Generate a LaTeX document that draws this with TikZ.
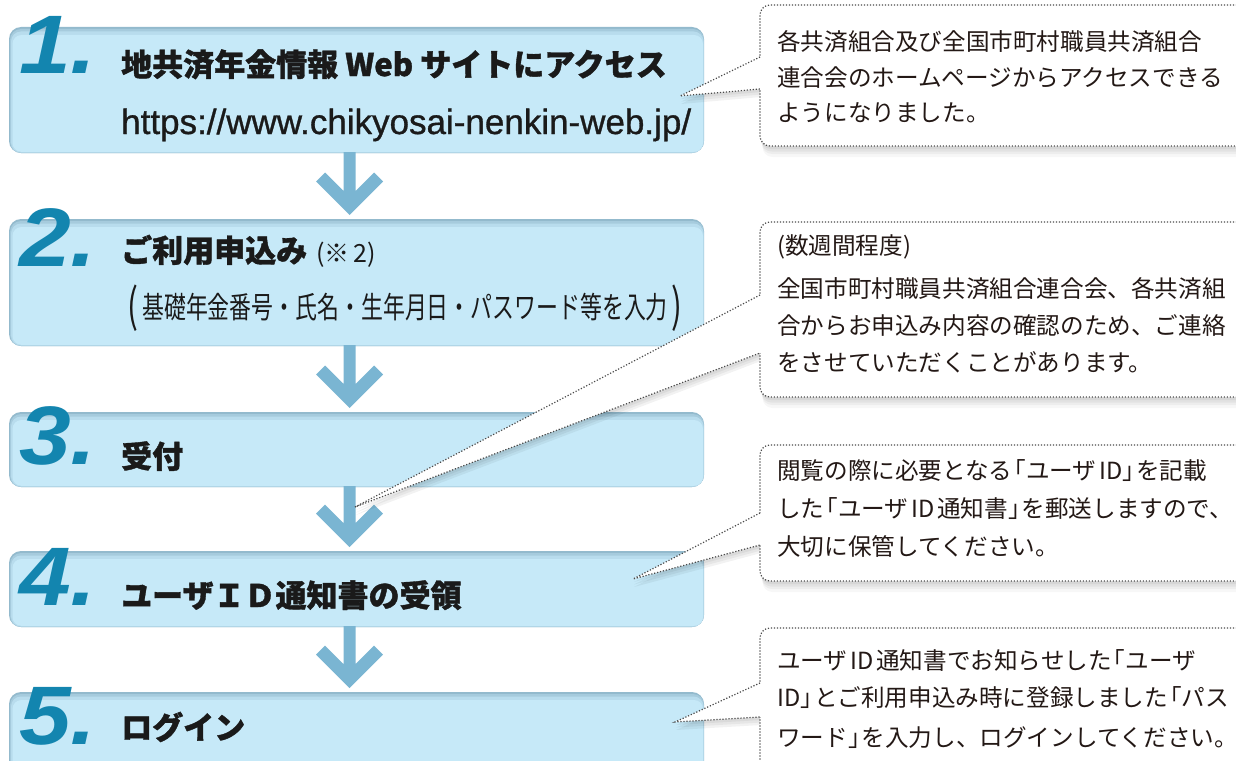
\documentclass[tikz,border=0pt]{standalone}
\usepackage{fontspec}
\usepackage{graphicx}
\usetikzlibrary{calc}
\newfontfamily\jp[BoldFeatures={FakeBold=1.2}]{Noto Sans CJK JP}
\newfontfamily\numf{Liberation Sans}
\newfontfamily\urlf[FakeBold=0.9]{Liberation Sans}
\definecolor{rimA}{HTML}{93BACD}
\definecolor{rimB}{HTML}{A6CBDD}
\definecolor{rimC}{HTML}{B8DCED}
\definecolor{boxfill}{HTML}{C6E9F8}
\definecolor{arrowc}{HTML}{7AB5D2}
\definecolor{numc}{HTML}{1385AF}
\definecolor{headc}{HTML}{1A1A1A}
\definecolor{txtc}{HTML}{231815}
\definecolor{dotc}{HTML}{4A4A4A}
\newcommand\jlb{\kern-.42em「}
\newcommand\jrb{」\kern-.42em}
\tikzset{
  stepbox/.style={rounded corners=12pt, fill=rimA, minimum width=695pt, anchor=north west,
    inner sep=0pt, outer sep=0pt,
    path picture={
      \fill[rimB, rounded corners=11pt] ([xshift=1pt,yshift=-2pt]path picture bounding box.north west) rectangle (path picture bounding box.south east);
      \fill[rimC, rounded corners=10pt] ([xshift=2pt,yshift=-4.5pt]path picture bounding box.north west) rectangle ([xshift=-0.5pt,yshift=0.5pt]path picture bounding box.south east);
      \fill[boxfill, rounded corners=9pt] ([xshift=3.5pt,yshift=-8pt]path picture bounding box.north west) rectangle ([xshift=-1pt,yshift=1.2pt]path picture bounding box.south east);
    }},
  callbox/.style={rounded corners=10pt, fill=white, draw=dotc, line width=1.2pt,
    dash pattern=on 1.2pt off 1.8pt, minimum width=520pt, anchor=north west,
    inner sep=0pt, outer sep=0pt,
    preaction={draw=none, fill=black, opacity=0.05, transform canvas={shift={(1pt,-3pt)}}},
    preaction={draw=none, fill=black, opacity=0.05, transform canvas={shift={(1.5pt,-5.5pt)}}},
    preaction={draw=none, fill=black, opacity=0.04, transform canvas={shift={(2pt,-8pt)}}},
    preaction={draw=none, fill=black, opacity=0.03, transform canvas={shift={(2.5pt,-11pt)}}}},
  pointer/.style={draw=dotc, line width=1.2pt, dash pattern=on 1.2pt off 1.8pt},
  wedgeshadow/.style={fill=black, opacity=0.05},
  num/.style={font=\numf\bfseries\itshape\fontsize{83pt}{84pt}\selectfont, text=numc, anchor=base west, inner sep=0pt},
  head/.style={font=\jp\bfseries\fontsize{31pt}{36pt}\selectfont, text=headc, anchor=base west, inner sep=0pt},
  urltext/.style={font=\urlf\fontsize{35pt}{36pt}\selectfont, text=headc, anchor=base west, inner sep=0pt},
  subtext/.style={font=\jp\fontsize{25pt}{26pt}\selectfont, text=headc, anchor=base west, inner sep=0pt},
  linetwo/.style={font=\jp\fontsize{30pt}{32pt}\selectfont, text=headc, anchor=base west, inner sep=0pt},
  bigparen/.style={font=\jp\fontsize{46pt}{48pt}\selectfont, text=headc, anchor=center, inner sep=0pt},
  ctext/.style={font=\jp\fontsize{23.6pt}{30pt}\selectfont, text=txtc, anchor=base west, inner sep=0pt}
}
\newcommand\flowarrow[2]{%
  \fill[arrowc] ($(#1.south)+(-13,-1)$) -- ($(#2.north)+(-13,-28)$) -- ($(#2.north)+(-31.5,-46.5)$)
    -- ($(#2.north)+(-40.5,-37.5)$) -- ($(#2.north)+(-7,-4)$) -- ($(#2.north)+(26.5,-37.5)$)
    -- ($(#2.north)+(17.5,-46.5)$) -- ($(#2.north)+(-1,-28)$) -- ($(#1.south)+(-1,-1)$) -- cycle;}
\newcommand\pointerwedge[3]{% upper base, tip, lower base
  \foreach \s in {3,5.5,8}{\fill[wedgeshadow, transform canvas={shift={(1pt,-\s pt)}}] (#1) -- (#2) -- (#3) -- cycle;}
}
\newcommand\pointerdraw[3]{%
  \fill[white] (#1) -- (#2) -- (#3) -- ($(#3)+(2,0)$) -- ($(#1)+(2,0)$) -- cycle;
  \draw[pointer] (#1) -- (#2) -- (#3);}
\begin{document}
\begin{tikzpicture}[x=1pt,y=-1pt]
\useasboundingbox (0,0) rectangle (1236,760);
\clip (0,0) rectangle (1236,760);
% step boxes
\node[stepbox, minimum height=126pt] (b1) at (9,27) {};
\node[stepbox, minimum height=127pt] (b2) at (9,219) {};
\node[stepbox, minimum height=75pt] (b3) at (9,412) {};
\node[stepbox, minimum height=76pt] (b4) at (9,551) {};
\node[stepbox, minimum height=110pt] (b5) at (9,692) {};
% arrows
\flowarrow{b1}{b2}
\flowarrow{b2}{b3}
\flowarrow{b3}{b4}
\flowarrow{b4}{b5}
% numbers
\node[num] (n1) at (19,74) {\scalebox{1.12}[1]{1.}};
\node[num] (n2) at (19,266) {\scalebox{1.12}[1]{2.}};
\node[num] (n3) at (19,464) {\scalebox{1.12}[1]{3.}};
\node[num] (n4) at (19,605) {\scalebox{1.12}[1]{4.}};
\node[num] (n5) at (19,744) {\scalebox{1.12}[1]{5.}};
% headings
\node[head] (h1) at (121,76) {地共済年金情報 Web サイトにアクセス};
\node[urltext] (u1) at (121,134) {https://www.chikyosai-nenkin-web.jp/};
\node[head] (h2) at (121,262) {ご利用申込み};
\node[subtext] (h2n) at (316,262) {(※\,2)};
\node[bigparen] (pl) at (133,308) {\scalebox{0.7}[1]{(}};
\node[linetwo] (h2b) at (142,318) {\scalebox{0.73}[1]{基礎年金番号・氏名・生年月日・パスワード等を入力}};
\node[bigparen] (pr) at (677,308) {\scalebox{0.7}[1]{)}};
\node[head] (h3) at (121,468) {受付};
\node[head] (h4) at (121,607) {ユーザＩＤ通知書の受領};
\node[head] (h5) at (121,739) {ログイン};
% callout anchor coordinates
\coordinate (c1u) at (760,57);  \coordinate (c1l) at (760,89);  \coordinate (p1) at (680,96);
\coordinate (c2u) at (760,295); \coordinate (c2l) at (760,353); \coordinate (p2) at (355,507);
\coordinate (c3u) at (760,513); \coordinate (c3l) at (760,545); \coordinate (p3) at (633,579);
\coordinate (c4u) at (760,683); \coordinate (c4l) at (760,717); \coordinate (p4) at (675,722);
% pointer shadows
\pointerwedge{c1u}{p1}{c1l}
\pointerwedge{c2u}{p2}{c2l}
\pointerwedge{c3u}{p3}{c3l}
\pointerwedge{c4u}{p4}{c4l}
% callout boxes
\node[callbox, minimum height=141pt] (c1) at (760,5) {};
\node[callbox, minimum height=175pt] (c2) at (760,222) {};
\node[callbox, minimum height=136pt] (c3) at (760,445) {};
\node[callbox, minimum height=200pt] (c4) at (760,628) {};
% pointers
\pointerdraw{c1u}{p1}{c1l}
\pointerdraw{c2u}{p2}{c2l}
\pointerdraw{c3u}{p3}{c3l}
\pointerdraw{c4u}{p4}{c4l}
% callout texts
\node[ctext] (t1a) at (777,50.5) {各共済組合及び全国市町村職員共済組合};
\node[ctext] (t1b) at (777,86.5) {連合会のホームページからアクセスできる};
\node[ctext] (t1c) at (777,121.5) {ようになりました。};
\node[ctext] (t2a) at (777,254.5) {(数週間程度)};
\node[ctext] (t2b) at (777,297.5) {全国市町村職員共済組合連合会、各共済組};
\node[ctext] (t2c) at (777,334.5) {合からお申込み内容の確認のため、ご連絡};
\node[ctext] (t2d) at (777,371.5) {をさせていただくことがあります。};
\node[ctext] (t3a) at (777,479.5) {閲覧の際に必要となる\jlb ユーザ\kern.12em ID\jrb を記載};
\node[ctext] (t3b) at (777,517.5) {した\jlb ユーザ\kern.12em ID\kern.12em 通知書\jrb を郵送しますので、};
\node[ctext] (t3c) at (777,555.5) {大切に保管してください。};
\node[ctext] (t4a) at (777,669.5) {ユーザ\kern.12em ID\kern.12em 通知書でお知らせした\jlb ユーザ};
\node[ctext] (t4b) at (777,706.5) {ID\jrb とご利用申込み時に登録しました\jlb パス};
\node[ctext] (t4c) at (777,746.5) {ワード\jrb を入力し、ログインしてください。};
\end{tikzpicture}
\end{document}
